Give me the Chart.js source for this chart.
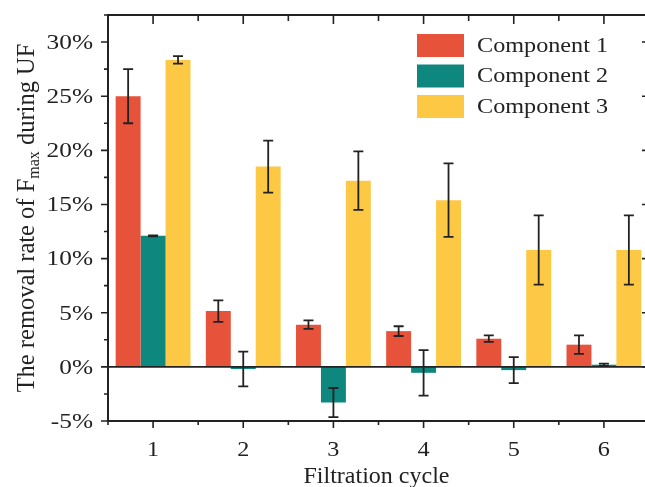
<!DOCTYPE html>
<html>
<head>
<meta charset="utf-8">
<script src="https://cdn.jsdelivr.net/npm/chart.js@4.4.0/dist/chart.umd.min.js"></script>
<style>
html, body { margin: 0; padding: 0; overflow: hidden; background: #fff; }
#wrap { width: 655px; height: 487px; }
</style>
</head>
<body>
<div id="wrap"><canvas id="removalChart" width="655" height="487"></canvas></div>
<script>
// data (percent)
var cycles = ['1', '2', '3', '4', '5', '6'];
var comp1 = [25.0, 5.15, 3.9, 3.3, 2.6, 2.05];
var comp1Err = [2.5, 1.0, 0.4, 0.45, 0.3, 0.85];
var comp2 = [12.1, -0.2, -3.3, -0.55, -0.3, 0.2];
var comp2Err = [0.05, 1.6, 1.35, 2.1, 1.2, 0.1];
var comp3 = [28.35, 18.5, 17.2, 15.4, 10.8, 10.8];
var comp3Err = [0.35, 2.4, 2.7, 3.4, 3.2, 3.2];
var seriesNames = ['Component 1', 'Component 2', 'Component 3'];
var yMin = -5, yMax = 32.5, yStep = 5;

var serif = '"Liberation Serif", "Times New Roman", serif';
var inkColor = '#222';

// text a bit wider than the font, like the scanned figure
function wideText(ctx, txt, x, y, align, stretch) {
    ctx.save();
    ctx.translate(x, y);
    ctx.scale(stretch, 1);
    ctx.textAlign = align;
    ctx.fillText(txt, 0, 0);
    ctx.restore();
}

// axes frame, ticks, labels, zero line, error bars, titles, legend
var figurePlugin = {
    id: 'figurePlugin',
    afterDatasetsDraw: function (chart) {
        var ctx = chart.ctx;
        var area = chart.chartArea;
        var xs = chart.scales.x;
        var ys = chart.scales.y;
        ctx.save();
        ctx.strokeStyle = inkColor;
        ctx.fillStyle = inkColor;

        // zero line
        var y0 = ys.getPixelForValue(0);
        ctx.lineWidth = 1.6;
        ctx.beginPath();
        ctx.moveTo(area.left, y0);
        ctx.lineTo(area.right, y0);
        ctx.stroke();

        // error bars
        ctx.lineWidth = 1.8;
        chart.data.datasets.forEach(function (ds, i) {
            var meta = chart.getDatasetMeta(i);
            meta.data.forEach(function (bar, j) {
                var v = ds.data[j], e = ds.errors[j];
                var yt = ys.getPixelForValue(v + e);
                var yb = ys.getPixelForValue(v - e);
                ctx.beginPath();
                ctx.moveTo(bar.x, yt);
                ctx.lineTo(bar.x, yb);
                ctx.moveTo(bar.x - 5, yt);
                ctx.lineTo(bar.x + 5, yt);
                ctx.moveTo(bar.x - 5, yb);
                ctx.lineTo(bar.x + 5, yb);
                ctx.stroke();
            });
        });

        // frame
        ctx.lineWidth = 2;
        ctx.strokeRect(area.left, area.top, area.right - area.left, area.bottom - area.top);

        // y ticks (major outside left, inside right; minor halfway)
        ctx.lineWidth = 1.6;
        for (var v = yMin; v <= yMax + 0.001; v += yStep / 2) {
            var py = ys.getPixelForValue(v);
            var major = Math.abs(v / yStep - Math.round(v / yStep)) < 0.01;
            var len = major ? 7 : 4;
            ctx.beginPath();
            ctx.moveTo(area.left, py);
            ctx.lineTo(area.left - len, py);
            ctx.moveTo(area.right, py);
            ctx.lineTo(area.right - len, py);
            ctx.stroke();
        }
        // x ticks (major at categories, minor between)
        for (var k = -0.5; k <= cycles.length - 0.5 + 0.001; k += 0.5) {
            var px = xs.getPixelForValue(k);
            var maj = Math.abs(k - Math.round(k)) < 0.01;
            var l2 = maj ? 7 : 4;
            ctx.beginPath();
            ctx.moveTo(px, area.bottom);
            ctx.lineTo(px, area.bottom + l2);
            ctx.moveTo(px, area.top);
            ctx.lineTo(px, area.top + l2 + 2);
            ctx.stroke();
        }

        // tick labels from the scales
        ctx.font = '22px ' + serif;
        ctx.textBaseline = 'middle';
        ys.ticks.forEach(function (t) {
            wideText(ctx, t.value + '%', 93, ys.getPixelForValue(t.value) + 1, 'right', 1.15);
        });
        xs.ticks.forEach(function (t, i) {
            wideText(ctx, xs.getLabelForValue(t.value), xs.getPixelForValue(t.value), 450, 'center', 1.1);
        });

        // x axis title
        ctx.font = '24px ' + serif;
        ctx.textBaseline = 'alphabetic';
        wideText(ctx, 'Filtration cycle', (area.left + area.right) / 2 - 2, 483, 'center', 1.0);

        // y axis title with subscript
        var partA = 'The removal rate of F';
        var partSub = 'max';
        var partB = ' during UF';
        ctx.font = '24.5px ' + serif;
        var wA = ctx.measureText(partA).width;
        var wB = ctx.measureText(partB).width;
        ctx.font = '16px ' + serif;
        var wS = ctx.measureText(partSub).width;
        var total = wA + wS + wB;
        ctx.translate(34, 218);
        ctx.rotate(-Math.PI / 2);
        ctx.textAlign = 'left';
        var sx = -total / 2;
        ctx.font = '24.5px ' + serif;
        ctx.fillText(partA, sx, 0);
        ctx.font = '16px ' + serif;
        ctx.fillText(partSub, sx + wA, 5);
        ctx.font = '24.5px ' + serif;
        ctx.fillText(partB, sx + wA + wS, 0);
        ctx.setTransform(1, 0, 0, 1, 0, 0);

        // legend
        ctx.font = '22px ' + serif;
        ctx.textBaseline = 'middle';
        chart.data.datasets.forEach(function (ds, i) {
            var by = 34 + i * 30.5;
            ctx.fillStyle = ds.backgroundColor;
            ctx.fillRect(417, by, 47, 23);
            ctx.fillStyle = inkColor;
            wideText(ctx, ds.label, 477, by + 12, 'left', 1.1);
        });
        ctx.restore();
    }
};

var barData = {
    labels: cycles,
    datasets: [{
        label: seriesNames[0],
        backgroundColor: '#E6523A',
        data: comp1,
        errors: comp1Err
    }, {
        label: seriesNames[1],
        backgroundColor: '#0E877F',
        data: comp2,
        errors: comp2Err
    }, {
        label: seriesNames[2],
        backgroundColor: '#FDC945',
        data: comp3,
        errors: comp3Err
    }]
};

var ctx = document.getElementById('removalChart').getContext('2d');
window.myBar = new Chart(ctx, {
    type: 'bar',
    data: barData,
    plugins: [figurePlugin],
    options: {
        responsive: false,
        animation: false,
        devicePixelRatio: 1,
        layout: { padding: { top: 15, right: 6, left: 0, bottom: 0 } },
        datasets: {
            bar: { categoryPercentage: 0.83, barPercentage: 1.0, borderWidth: 0 }
        },
        plugins: {
            legend: { display: false },
            tooltip: { enabled: false }
        },
        scales: {
            x: {
                offset: true,
                grid: { display: false },
                border: { display: false },
                ticks: { display: false },
                afterFit: function (s) { s.height = 66; s.paddingLeft = 0; s.paddingRight = 0; }
            },
            y: {
                min: yMin,
                max: yMax,
                grid: { display: false },
                border: { display: false },
                ticks: { display: false, stepSize: yStep, includeBounds: false },
                afterFit: function (s) { s.width = 108; s.paddingTop = 0; s.paddingBottom = 0; }
            }
        }
    }
});
</script>
</body>
</html>
